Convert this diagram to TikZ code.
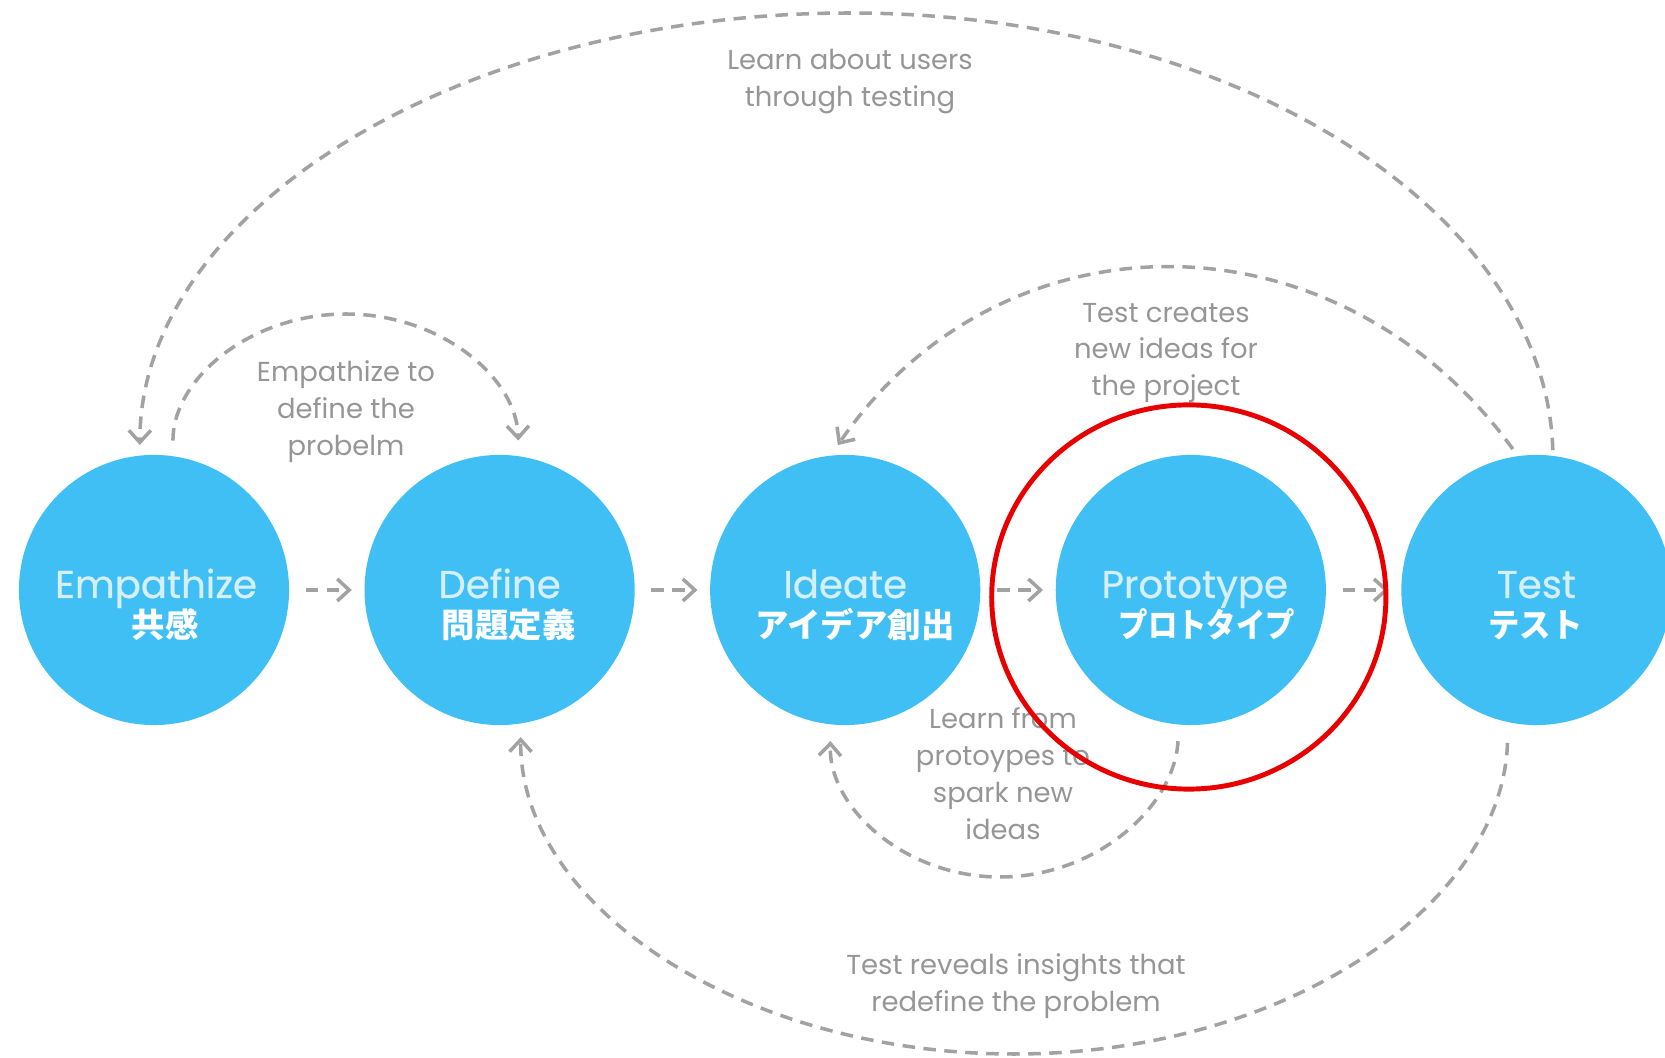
\documentclass[tikz,border=0pt]{standalone}
\usepackage{fontspec}
\setmainfont{Poppins}
\newfontfamily\titlefont{Poppins}[FakeBold=0.5]
\newfontfamily\jpfont{Noto Sans CJK JP}
\usetikzlibrary{arrows.meta,positioning,shapes.geometric}
\definecolor{stageblue}{RGB}{64,191,245}
\definecolor{stagetext}{RGB}{214,239,246}
\definecolor{dashgray}{RGB}{162,162,162}
\definecolor{notegray}{RGB}{150,150,150}
\definecolor{markred}{RGB}{232,0,0}
\tikzset{
>={Straight Barb[length=1.2mm,width=2.2mm]},
  stage/.style={
    circle,
    fill=stageblue,
    minimum size=2.7cm,
    inner sep=0pt},
  stagename/.style={
    anchor=base,
    text=stagetext,
    font=\titlefont\fontsize{11}{13}\selectfont},
  stagejp/.style={
    anchor=base,
    text=white,
    font=\jpfont\bfseries\fontsize{9.5}{11}\selectfont},
  note/.style={
    align=center,
    text=notegray,
    font=\fontsize{7.8}{10.5}\selectfont},
  dashline/.style={
    draw=dashgray,
    line width=1pt,
    dash pattern=on 1.25mm off 0.85mm},
  nextstep/.style={dashline, ->, shorten <=1.6mm, shorten >=1.2mm},
  feedback/.style={dashline, ->},
  highlight/.style={
    ellipse,
    draw=markred,
    line width=1.4pt,
    minimum width=3.94cm,
    minimum height=3.84cm,
    inner sep=0pt},
}

\begin{document}
\begin{tikzpicture}[x=0.01cm, y=-0.01cm, node distance=0.74cm]
  \useasboundingbox (0,0) rectangle (1665,1058);
  % the five stages
  \node[stage] (emp) at (154,590) {};
  \node[stage, right=of emp] (def) {};
  \node[stage, right=of def] (ide) {};
  \node[stage, right=of ide] (pro) {};
  \node[stage, right=of pro] (tst) {};
  % names: english over japanese
  \node[stagename] (empname) at ([shift={(2,8)}]emp.center) {Empathize};
  \node[stagename] (defname) at ([shift={(0,8)}]def.center) {Define};
  \node[stagename] (idename) at ([shift={(0,8)}]ide.center) {Ideate};
  \node[stagename] (proname) at ([shift={(4,8)}]pro.center) {Prototype};
  \node[stagename] (tstname) at ([shift={(0,8)}]tst.center) {Test};
  \node[stagejp] (empjp) at ([shift={(11,48)}]emp.center) {共感};
  \node[stagejp] (defjp) at ([shift={(9,48)}]def.center) {問題定義};
  \node[stagejp] (idejp) at ([shift={(10,48)}]ide.center) {アイデア創出};
  \node[stagejp] (projp) at ([shift={(16,48)}]pro.center) {\scalebox{0.88}[1]{プロトタイプ}};
  \node[stagejp] (tstjp) at ([shift={(-1,48)}]tst.center) {\scalebox{0.94}[1]{テスト}};
  % forward steps
  \draw[nextstep] (emp) -- (def);
  \draw[nextstep] (def) -- (ide);
  \draw[nextstep] (ide) -- (pro);
  \draw[nextstep] (pro) -- (tst);
  % loops back, over the top
  \draw[feedback, shorten <=0.5mm, shorten >=1mm]
    (tst.83) .. controls (1546,211) and (1234,13) .. (850,13)
    .. controls (458,13) and (140,211) .. (emp.96);
  \draw[feedback, shorten <=1.5mm, shorten >=1.5mm]
    (emp.82) .. controls (173,378) and (251,314) .. (346,314)
    .. controls (441,314) and (517,378) .. (def.82);
  \draw[feedback, shorten <=0.8mm, shorten >=1.2mm]
    (tst.98) .. controls (1337,207) and (1002,207) .. (ide.96);
  % loops back, underneath
  \draw[feedback, shorten <=1.6mm, shorten >=1.6mm]
    (pro.265) .. controls (1174,808) and (1095,877) .. (1000,877)
    .. controls (905,877) and (828,808) .. (ide.264);
  \draw[feedback, shorten <=2mm, shorten >=1.3mm]
    (tst.258) .. controls (1502,906) and (1285,1054) .. (1014,1054)
    .. controls (742,1054) and (519,906) .. (def.279);
  % what the loops mean
  \node[note] (usersnote) at (850,82) {Learn about users\\through testing};
  \node[note] (definenote) at (346,412) {Empathize to\\define the\\probelm};
  \node[note] (ideasnote) at (1166,353) {Test creates\\new ideas for\\the project};
  \node[note] (protonote) at (1003,774) {Learn from\\protoypes to\\spark new\\ideas};
  \node[note] (insightnote) at (1016,986) {Test reveals insights that\\redefine the problem};
  % the stage in focus
  \node[highlight] (mark) at ([shift={(-2,7)}]pro.center) {};
\end{tikzpicture}
\end{document}
